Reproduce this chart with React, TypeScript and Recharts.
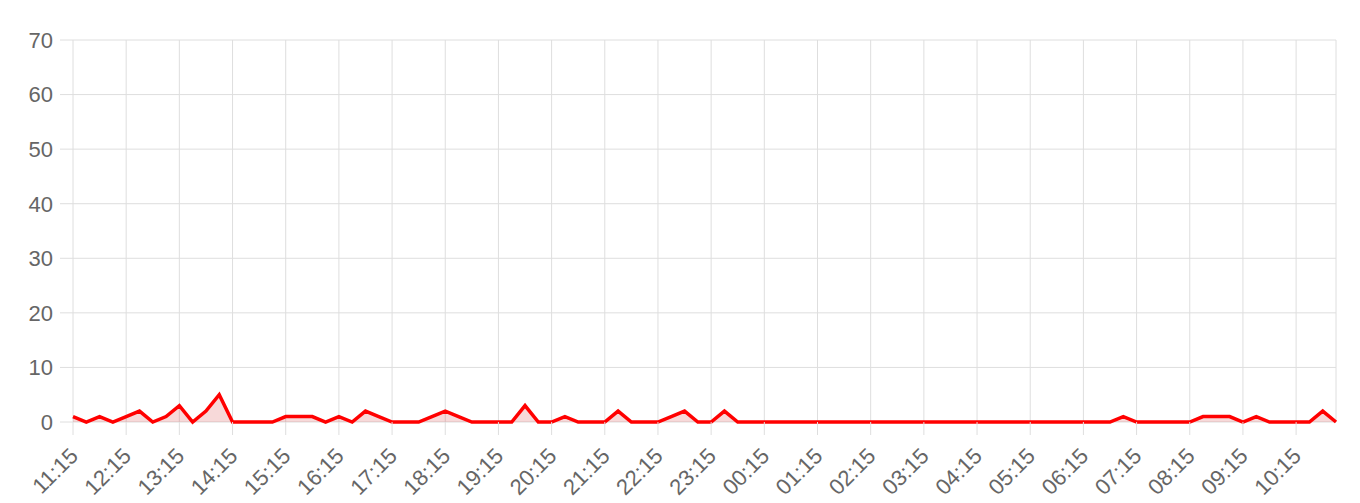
import React from 'react';
import { AreaChart, Area, XAxis, YAxis, CartesianGrid } from 'recharts';

const times = [
  '11:15', '11:30', '11:45', '12:00', '12:15', '12:30', '12:45', '13:00',
  '13:15', '13:30', '13:45', '14:00', '14:15', '14:30', '14:45', '15:00',
  '15:15', '15:30', '15:45', '16:00', '16:15', '16:30', '16:45', '17:00',
  '17:15', '17:30', '17:45', '18:00', '18:15', '18:30', '18:45', '19:00',
  '19:15', '19:30', '19:45', '20:00', '20:15', '20:30', '20:45', '21:00',
  '21:15', '21:30', '21:45', '22:00', '22:15', '22:30', '22:45', '23:00',
  '23:15', '23:30', '23:45', '00:00', '00:15', '00:30', '00:45', '01:00',
  '01:15', '01:30', '01:45', '02:00', '02:15', '02:30', '02:45', '03:00',
  '03:15', '03:30', '03:45', '04:00', '04:15', '04:30', '04:45', '05:00',
  '05:15', '05:30', '05:45', '06:00', '06:15', '06:30', '06:45', '07:00',
  '07:15', '07:30', '07:45', '08:00', '08:15', '08:30', '08:45', '09:00',
  '09:15', '09:30', '09:45', '10:00', '10:15', '10:30', '10:45', '11:00',
];

const counts = [
  1, 0, 1, 0, 1, 2, 0, 1,
  3, 0, 2, 5, 0, 0, 0, 0,
  1, 1, 1, 0, 1, 0, 2, 1,
  0, 0, 0, 1, 2, 1, 0, 0,
  0, 0, 3, 0, 0, 1, 0, 0,
  0, 2, 0, 0, 0, 1, 2, 0,
  0, 2, 0, 0, 0, 0, 0, 0,
  0, 0, 0, 0, 0, 0, 0, 0,
  0, 0, 0, 0, 0, 0, 0, 0,
  0, 0, 0, 0, 0, 0, 0, 1,
  0, 0, 0, 0, 0, 1, 1, 1,
  0, 1, 0, 0, 0, 0, 2, 0,
];

const yTicks = [0, 10, 20, 30, 40, 50, 60, 70];

const data = times.map((t, i) => ({ time: t, value: counts[i] }));

const FONT = '"Liberation Sans", Arial, Helvetica, sans-serif';
const LABEL = '#666666';
const GRID = '#dedede';

const XTick = (props: any) => {
  const { x, y, payload } = props;
  const ax = x + 1;
  return (
    <text
      x={ax}
      y={y}
      transform={`rotate(-45, ${ax}, ${y})`}
      textAnchor="end"
      dominantBaseline="central"
      fill={LABEL}
      fontSize={22}
      fontFamily={FONT}
    >
      {payload.value}
    </text>
  );
};

export default function App() {
  return (
    <div style={{ position: 'absolute', left: 0, top: 0, width: 1360, height: 503, background: '#fff' }}>
      <AreaChart
        width={1360}
        height={503}
        data={data}
        margin={{ top: 40, right: 24, bottom: 0, left: 13 }}
      >
        <CartesianGrid stroke={GRID} strokeWidth={1} />
        <XAxis
          dataKey="time"
          interval={3}
          height={81}
          tickSize={13}
          tickMargin={17}
          axisLine={false}
          tickLine={{ stroke: GRID }}
          tick={<XTick />}
        />
        <YAxis
          domain={[0, 70]}
          ticks={yTicks}
          width={60}
          tickSize={13}
          tickMargin={7}
          axisLine={false}
          tickLine={{ stroke: GRID }}
          tick={{ fill: LABEL, fontSize: 22, fontFamily: FONT }}
          interval={0}
        />
        <Area
          type="linear"
          dataKey="value"
          stroke="#ff0000"
          strokeWidth={3.5}
          fill="rgb(200,0,0)"
          fillOpacity={0.15}
          dot={false}
          activeDot={false}
          isAnimationActive={false}
        />
      </AreaChart>
    </div>
  );
}
